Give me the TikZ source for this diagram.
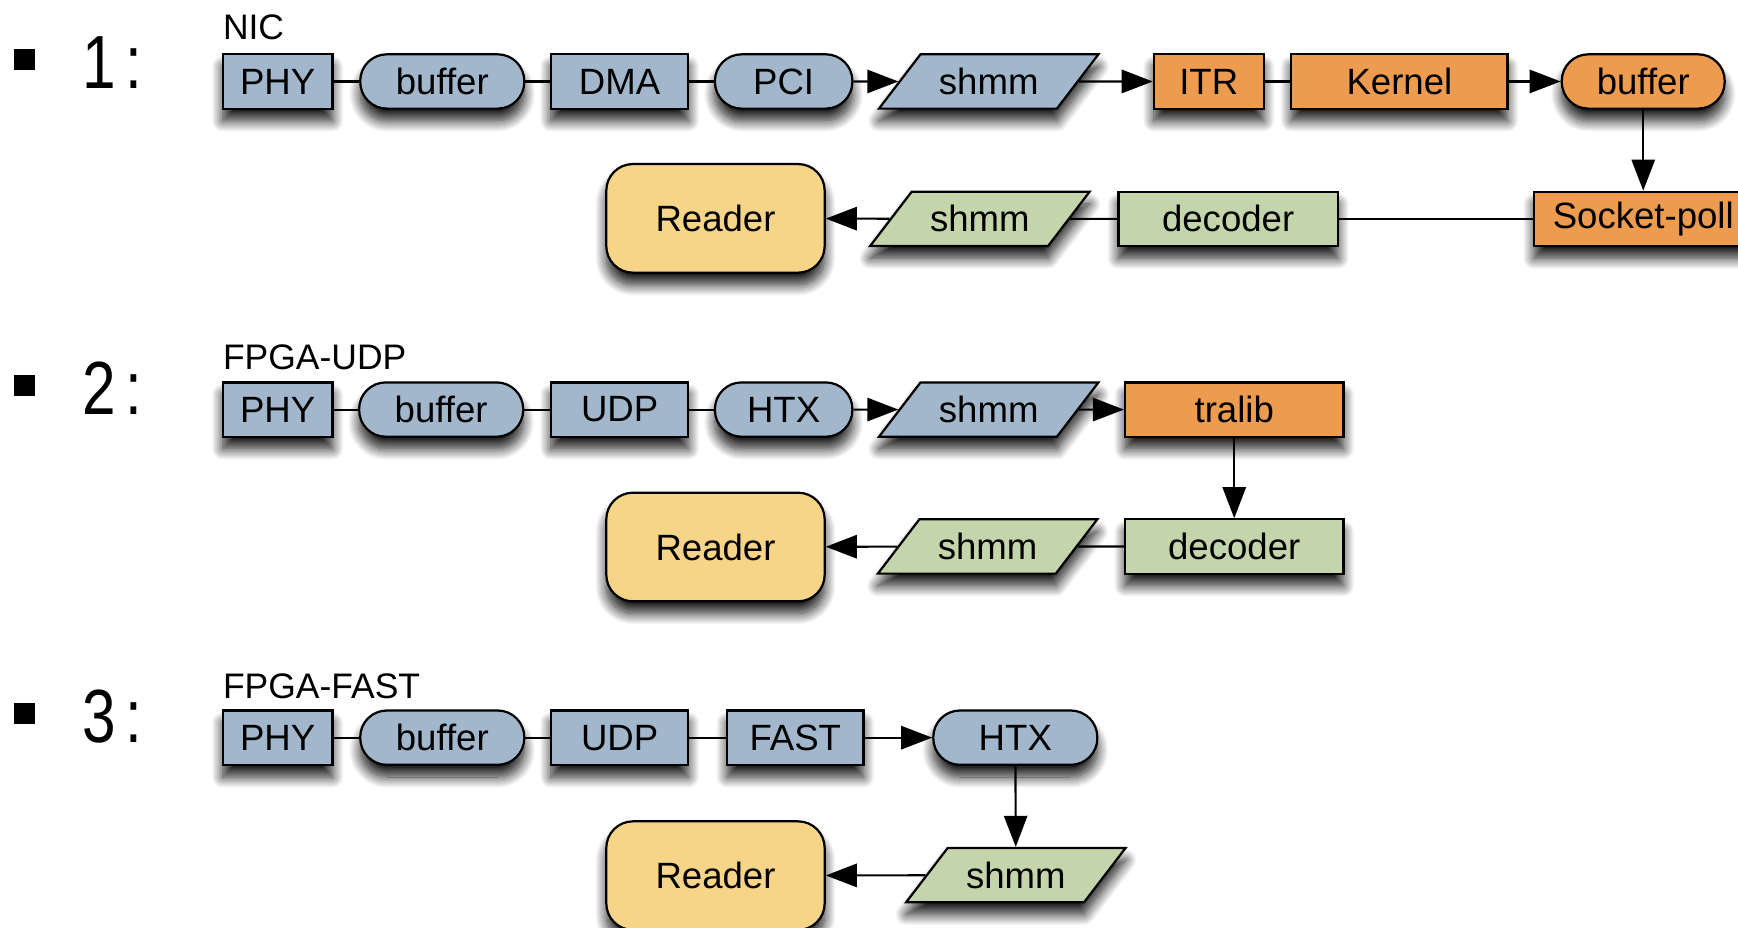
\documentclass[tikz,border=0pt]{standalone}
\usepackage{fontspec}
\setmainfont{Liberation Sans}
\newfontfamily\numfont{Liberation Sans}[FakeStretch=0.8]
\usetikzlibrary{arrows.meta,shapes.geometric,shadows.blur}

\definecolor{netblue}{HTML}{A2B7CC}
\definecolor{hostorange}{HTML}{EC9B4F}
\definecolor{decgreen}{HTML}{C5D5AB}
\definecolor{readeryellow}{HTML}{F7D588}

\tikzset{
  every node/.style={font=\fontsize{33}{40}\selectfont},
  unit/.style={draw=black, line width=2pt, minimum height=49pt, inner sep=2pt,
    blur shadow={shadow xshift=0pt, shadow yshift=-11pt, shadow blur radius=10pt,
      shadow blur steps=14, shadow opacity=90}},
  box/.style={unit, rectangle},
  pill/.style={unit, rectangle, rounded corners=24pt},
  shm/.style={unit, trapezium, trapezium left angle=37, trapezium right angle=143,
    trapezium stretches body, minimum width=198pt},
  reader/.style={unit, rectangle, rounded corners=24pt, fill=readeryellow,
    minimum width=197pt, minimum height=98pt},
  link/.style={line width=1.9pt},
  flow/.style={link, -{Triangle[length=28pt,width=21pt]}},
  caption/.style={anchor=base west, inner sep=0pt, font=\fontsize{32}{38}\selectfont},
  rownum/.style={anchor=base west, inner sep=0pt, font=\numfont\fontsize{68}{80}\selectfont},
  bullet/.style={fill=black, minimum size=19pt, inner sep=0pt},
}
\newcommand\rowlabel[1]{#1\kern9pt:}

\begin{document}
\begin{tikzpicture}[x=1pt,y=-1pt]
\useasboundingbox (0,0) rectangle (1568,837);
\clip (0,0) rectangle (1568,837);

% ---------- 1: NIC ----------
\node[bullet] (b1) at (22,54) {};
\node[rownum] (n1) at (74,80) {\rowlabel{1}};
\node[caption] (c1) at (201,36) {NIC};
\node[box,  fill=netblue, minimum width=99pt]  (phy1) at (250.5,73.5) {PHY};
\node[pill, fill=netblue, minimum width=148pt] (buf1) at (399,73.5) {buffer};
\node[box,  fill=netblue, minimum width=124pt] (dma1) at (559,73.5) {DMA};
\node[pill, fill=netblue, minimum width=124pt] (pci1) at (707,73.5) {PCI};
\node[shm,  fill=netblue] (shmA1) at (892,73.5) {shmm};
\node[box,  fill=hostorange, minimum width=99pt]  (itr1) at (1090.5,73.5) {ITR};
\node[box,  fill=hostorange, minimum width=195pt] (ker1) at (1262.5,73.5) {Kernel};
\node[pill, fill=hostorange, minimum width=147pt] (kbuf1) at (1482.5,73.5) {buffer};
\node[box,  fill=hostorange, minimum width=197pt] (sock1) at (1482.5,197.5) {Socket-poll};
\node[box,  fill=decgreen, minimum width=198pt] (dec1) at (1108,197.5) {decoder};
\node[shm,  fill=decgreen] (shmB1) at (884,197.5) {shmm};
\node[reader] (rd1) at (645.5,197) {Reader};

\draw[link] (phy1) -- (buf1);
\draw[link] (buf1) -- (dma1);
\draw[link] (dma1) -- (pci1);
\draw[flow] (pci1) -- (shmA1);
\draw[flow] (shmA1) -- (itr1);
\draw[link] (itr1) -- (ker1);
\draw[flow] (ker1) -- (kbuf1);
\draw[flow] (kbuf1) -- (sock1);
\draw[link] (sock1) -- (dec1);
\draw[link] (dec1) -- (shmB1);
\draw[flow] (shmB1) -- (rd1);

% ---------- 2: FPGA-UDP ----------
\node[bullet] (b2) at (22,348) {};
\node[rownum] (n2) at (74,374) {\rowlabel{2}};
\node[caption] (c2) at (201,333) {FPGA-UDP};
\node[box,  fill=netblue, minimum width=99pt]  (phy2) at (250.5,369.5) {PHY};
\node[pill, fill=netblue, minimum width=148pt] (buf2) at (398,369.5) {buffer};
\node[box,  fill=netblue, minimum width=124pt] (udp2) at (559,369.5) {UDP};
\node[pill, fill=netblue, minimum width=124pt] (htx2) at (707,369.5) {HTX};
\node[shm,  fill=netblue] (shmA2) at (892,369.5) {shmm};
\node[box,  fill=hostorange, minimum width=197pt] (tra2) at (1113.5,369.5) {tralib};
\node[box,  fill=decgreen, minimum width=197pt] (dec2) at (1113.5,493) {decoder};
\node[shm,  fill=decgreen] (shmB2) at (891,493) {shmm};
\node[reader] (rd2) at (645.5,493.5) {Reader};

\draw[link] (phy2) -- (buf2);
\draw[link] (buf2) -- (udp2);
\draw[link] (udp2) -- (htx2);
\draw[flow] (htx2) -- (shmA2);
\draw[flow] (shmA2) -- (tra2);
\draw[flow] (tra2) -- (dec2);
\draw[link] (dec2) -- (shmB2);
\draw[flow] (shmB2) -- (rd2);

% ---------- 3: FPGA-FAST ----------
\node[bullet] (b3) at (22,644) {};
\node[rownum] (n3) at (74,670) {\rowlabel{3}};
\node[caption] (c3) at (201,630) {FPGA-FAST};
\node[box,  fill=netblue, minimum width=99pt]  (phy3) at (250.5,665.5) {PHY};
\node[pill, fill=netblue, minimum width=148pt] (buf3) at (399,665.5) {buffer};
\node[box,  fill=netblue, minimum width=124pt] (udp3) at (559,665.5) {UDP};
\node[box,  fill=netblue, minimum width=123pt] (fast3) at (717.5,665.5) {FAST};
\node[pill, fill=netblue, minimum width=148pt] (htx3) at (916,665.5) {HTX};
\node[shm,  fill=decgreen] (shmB3) at (916.5,789.5) {shmm};
\node[reader] (rd3) at (645.5,790) {Reader};

\draw[link] (phy3) -- (buf3);
\draw[link] (buf3) -- (udp3);
\draw[link] (udp3) -- (fast3);
\draw[flow] (fast3) -- (htx3);
\draw[flow] (htx3) -- (shmB3);
\draw[flow] (shmB3) -- (rd3);
\end{tikzpicture}
\end{document}
